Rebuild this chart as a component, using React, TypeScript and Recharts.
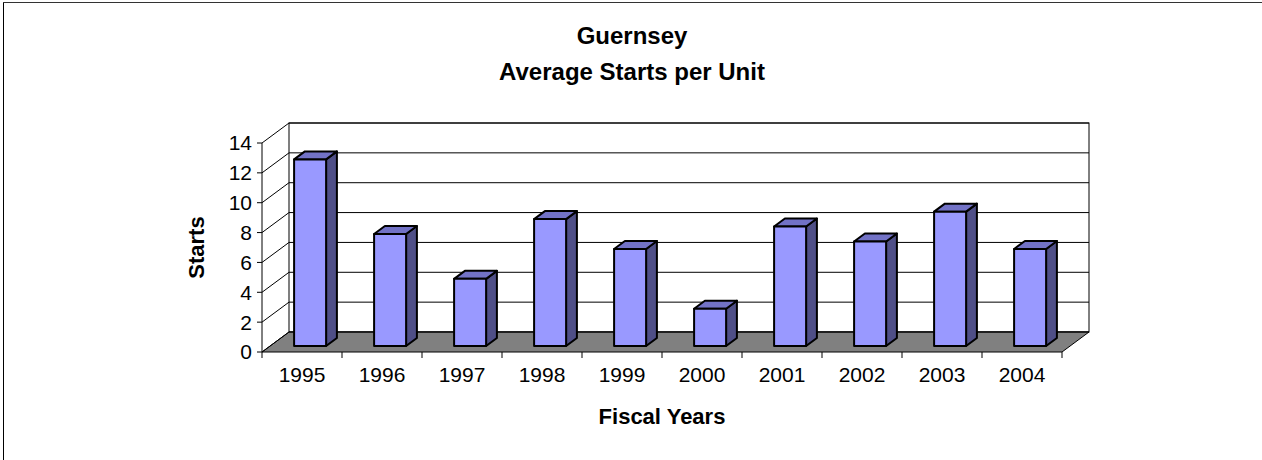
import React from 'react';
import { BarChart, Bar, XAxis, YAxis, ReferenceLine, ReferenceArea, Label } from 'recharts';

const years = ['1995', '1996', '1997', '1998', '1999', '2000', '2001', '2002', '2003', '2004'];
const starts = [12.5, 7.5, 4.5, 8.5, 6.5, 2.5, 8, 7, 9, 6.5];
const yTicks = [0, 2, 4, 6, 8, 10, 12, 14];
const titleLines = ['Guernsey', 'Average Starts per Unit'];
const xTitle = 'Fiscal Years';
const yTitle = 'Starts';

const data = years.map((year, i) => ({ year, starts: starts[i] }));

const FONT = '"Liberation Sans", Arial, sans-serif';
const WALL_DX = 27;
const WALL_DY = 20;
const BAR_FRONT = 0.3;
const BAR_DEPTH = 0.4;
const FRONT_COLOR = '#9999FF';
const TOP_COLOR = '#7272C6';
const SIDE_COLOR = '#4F4F87';

const WallAndFloor = (props: any) => {
  const { x, y, width, height } = props;
  const bottom = y + height;
  const n = years.length;
  const ticks = [];
  for (let i = 0; i <= n; i++) {
    const tx = x + (i * width) / n;
    ticks.push(<line key={i} x1={tx} y1={bottom} x2={tx} y2={bottom + 6} stroke="#000" strokeWidth={1} />);
  }
  return (
    <g>
      <rect x={x + WALL_DX} y={y - WALL_DY} width={width} height={height} fill="#fff" stroke="#000" strokeWidth={1} />
      <polygon
        points={`${x},${bottom} ${x + width},${bottom} ${x + width + WALL_DX},${bottom - WALL_DY} ${x + WALL_DX},${bottom - WALL_DY}`}
        fill="#808080"
        stroke="#000"
        strokeWidth={1}
      />
      {ticks}
    </g>
  );
};

const WallGrid = (props: any) => {
  const { x1, y1, x2 } = props;
  return (
    <g>
      <line x1={x1 + WALL_DX} y1={y1 - WALL_DY} x2={x2 + WALL_DX} y2={y1 - WALL_DY} stroke="#000" strokeWidth={1} />
      <line x1={x1} y1={y1} x2={x1 + WALL_DX} y2={y1 - WALL_DY} stroke="#000" strokeWidth={1} />
    </g>
  );
};

const Bar3D = (props: any) => {
  const { x, y, width, height } = props;
  if (width == null || height == null) return null;
  const fx = x + BAR_FRONT * WALL_DX;
  const fy = y - BAR_FRONT * WALL_DY;
  const dx = BAR_DEPTH * WALL_DX;
  const dy = BAR_DEPTH * WALL_DY;
  const w = width;
  const h = height;
  return (
    <g>
      <polygon
        points={`${fx + w},${fy} ${fx + w + dx},${fy - dy} ${fx + w + dx},${fy + h - dy} ${fx + w},${fy + h}`}
        fill={SIDE_COLOR}
        stroke="#000"
        strokeWidth={2}
        strokeLinejoin="round"
      />
      <polygon
        points={`${fx},${fy} ${fx + dx},${fy - dy} ${fx + w + dx},${fy - dy} ${fx + w},${fy}`}
        fill={TOP_COLOR}
        stroke="#000"
        strokeWidth={2}
        strokeLinejoin="round"
      />
      <rect x={fx} y={fy} width={w} height={h} fill={FRONT_COLOR} stroke="#000" strokeWidth={2} strokeLinejoin="round" />
    </g>
  );
};

const YTitle = (props: any) => {
  const vb = props.viewBox || { x: 202, y: 143, width: 60, height: 209 };
  const cx = vb.x + 2;
  const cy = vb.y + vb.height / 2;
  return (
    <text
      x={cx}
      y={cy}
      transform={`rotate(-90 ${cx} ${cy})`}
      textAnchor="middle"
      fontFamily={FONT}
      fontWeight="bold"
      fontSize={22}
      fill="#000"
    >
      {yTitle}
    </text>
  );
};

export default function App() {
  return (
    <div style={{ position: 'absolute', left: 0, top: 0, width: 1262, height: 460, background: '#fff', overflow: 'hidden' }}>
      <BarChart
        width={1262}
        height={460}
        data={data}
        margin={{ top: 143, right: 200, bottom: 78, left: 202 }}
        barSize={32}
      >
        <ReferenceArea y1={0} y2={14} shape={WallAndFloor} zIndex={-20} ifOverflow="visible" />
        {yTicks.map((v) => (
          <ReferenceLine key={v} y={v} shape={WallGrid} zIndex={-10} ifOverflow="visible" />
        ))}
        <XAxis
          dataKey="year"
          type="category"
          interval={0}
          height={30}
          axisLine={false}
          tickLine={false}
          tickSize={0}
          tickMargin={15}
          tick={{ fontFamily: FONT, fontSize: 21, fill: '#000' }}
        >
          <Label value={xTitle} position="bottom" offset={26} fontFamily={FONT} fontWeight="bold" fontSize={22} fill="#000" />
        </XAxis>
        <YAxis
          type="number"
          domain={[0, 14]}
          ticks={yTicks}
          interval={0}
          width={60}
          axisLine={{ stroke: '#000', strokeWidth: 1 }}
          tickLine={{ stroke: '#000', strokeWidth: 1 }}
          tickSize={5}
          tickMargin={5}
          tick={{ fontFamily: FONT, fontSize: 21, fill: '#000' }}
        >
          <Label content={YTitle} />
        </YAxis>
        <Bar dataKey="starts" shape={Bar3D} isAnimationActive={false} />
      </BarChart>
      <svg width={1262} height={460} style={{ position: 'absolute', left: 0, top: 0, pointerEvents: 'none' }}>
        <line x1={3.5} y1={2} x2={3.5} y2={460} stroke="#000" strokeWidth={1} />
        <line x1={3} y1={2.5} x2={1262} y2={2.5} stroke="#333" strokeWidth={1} />
        <text x={632} y={44} textAnchor="middle" fontFamily={FONT} fontWeight="bold" fontSize={24} fill="#000">
          {titleLines[0]}
        </text>
        <text x={632} y={80} textAnchor="middle" fontFamily={FONT} fontWeight="bold" fontSize={24} fill="#000">
          {titleLines[1]}
        </text>
      </svg>
    </div>
  );
}
